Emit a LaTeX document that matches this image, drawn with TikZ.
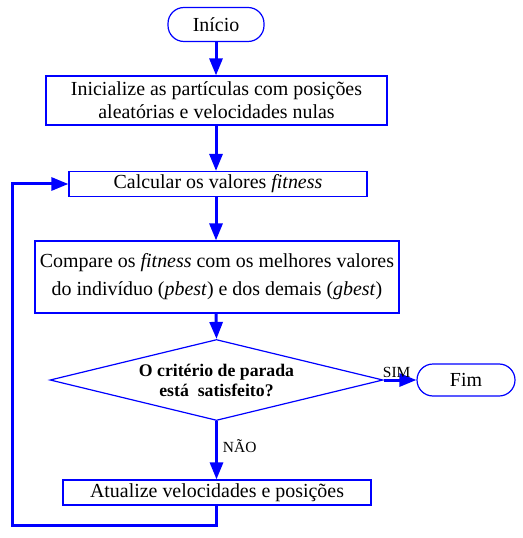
\documentclass[tikz,border=0pt]{standalone}
\usepackage{fontspec}
\setmainfont{Liberation Serif}
\usetikzlibrary{arrows.meta}
\usetikzlibrary{shapes.geometric}

\begin{document}
\begin{tikzpicture}[x=1bp,y=-1bp,
	caixa/.style={draw=blue,line width=1.2bp,rectangle,inner sep=0pt,align=center,font=\fontsize{20}{23}\selectfont},
	terminal/.style={draw=blue,line width=1.2bp,rectangle,rounded corners=16bp,inner sep=0pt,font=\fontsize{20}{22}\selectfont},
	decisao/.style={draw=blue,line width=1.2bp,diamond,aspect=4.1,inner sep=0pt,align=center,font=\fontsize{17.8}{20}\selectfont\bfseries},
	fluxo/.style={draw=blue,line width=3bp,-{Triangle[length=17bp,width=13bp]}},
	rotulo/.style={font=\fontsize{15.5}{17}\selectfont}]
	\useasboundingbox (0,0) rectangle (523,538);
	% blocos do fluxograma
	\node[terminal,minimum width=96bp,minimum height=34bp] (inicio) at (216,24.5) {Início};
	\node[caixa,minimum width=341bp,minimum height=49bp] (inicializa) at (216.5,100.5) {Inicialize as partículas com posições\\aleatórias e velocidades nulas};
	\node[caixa,minimum width=298bp,minimum height=25bp] (calcular) at (218,184) {Calcular os valores \textit{fitness}};
	\node[caixa,minimum width=364bp,minimum height=72bp,font=\fontsize{20}{28}\selectfont] (compare) at (217,277) {Compare os \textit{fitness} com os melhores valores\\do indivíduo (\textit{pbest}) e dos demais (\textit{gbest})};
	\node[decisao,minimum width=333bp,minimum height=81bp] (criterio) at (216.5,380) {O critério de parada\\está\ \ satisfeito?};
	\node[terminal,minimum width=98bp,minimum height=32bp] (fim) at (466,380) {Fim};
	\node[caixa,minimum width=308bp,minimum height=25bp] (atualiza) at (217,492.5) {Atualize velocidades e posições};
	\coordinate (retorno) at (12,525);
	% ligacoes
	\draw[fluxo] (inicio) -- (inicio |- inicializa.north);
	\draw[fluxo] (inicializa.south -| inicio) -- (inicio |- calcular.north);
	\draw[fluxo] (calcular.south -| inicio) -- (inicio |- compare.north);
	\draw[fluxo] (compare.south -| inicio) -- (criterio.north);
	\draw[fluxo] (criterio.east) -- node[rotulo,above,pos=0.4,inner sep=1pt] {SIM} (fim.west);
	\draw[fluxo] (criterio.south) -- node[rotulo,right,pos=0.43,inner sep=5pt] {NÃO} (criterio.south |- atualiza.north);
	\draw[fluxo] (criterio.south |- atualiza.south) |- (retorno) |- (calcular.west);
\end{tikzpicture}
\end{document}
